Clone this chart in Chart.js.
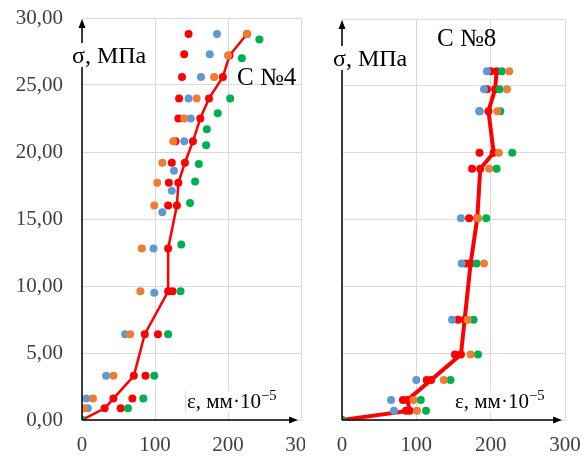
<!DOCTYPE html>
<html>
<head>
<meta charset="utf-8">
<script src="https://cdn.jsdelivr.net/npm/chart.js@4.4.1/dist/chart.umd.min.js"></script>
<style>
    body { margin: 0; background: #fff; }
    #contenedor { position: relative; width: 584px; height: 457px; overflow: hidden; }
    canvas { position: absolute; top: 0; }
    #grafico4 { left: 0; }
    #grafico8 { left: 305px; background: #fff; }
    .rotulo { position: absolute; font-family: 'Liberation Serif', serif; line-height: 1; color: #000; background: #fff; white-space: nowrap; padding: 0 1px; }
    .rotulo sup { font-size: 0.7em; vertical-align: 0.55em; line-height: 0; }
</style>
</head>
<body>
<div id="contenedor">
    <canvas id="grafico4" width="330" height="457"></canvas>
    <canvas id="grafico8" width="279" height="457"></canvas>
    <div class="rotulo" style="left:71px; top:43px; font-size:24px;">σ, МПа</div>
    <div class="rotulo" style="left:236px; top:64px; font-size:25px; background:none;">C №4</div>
    <div class="rotulo" style="left:185px; top:391px; font-size:21px; border-left:1px solid #d9d9d9;">ε, мм·10<sup>−5</sup></div>
    <div class="rotulo" style="left:332px; top:46px; font-size:24px;">σ, МПа</div>
    <div class="rotulo" style="left:436px; top:25px; font-size:25px; background:none;">C №8</div>
    <div class="rotulo" style="left:454px; top:391px; font-size:21px;">ε, мм·10<sup>−5</sup></div>
</div>
<script>
// C №4: deformación (x) y tensión (y)
const c4_azul_x = [185, 175, 163, 146, 149, 140, 126, 123, 110, 98, 99, 59, 33, 6, 8];
const c4_azul_y = [28.8, 27.3, 25.6, 24.0, 22.5, 20.8, 18.6, 17.1, 15.5, 12.8, 9.5, 6.4, 3.3, 1.6, 0.87];
const c4_naranja_x = [226, 200, 181, 157, 140, 125, 110, 103, 99, 82, 80, 66, 43, 15, 3];
const c4_naranja_y = [28.8, 27.2, 25.6, 24.0, 22.5, 20.8, 19.2, 17.7, 16.0, 12.8, 9.6, 6.4, 3.3, 1.6, 0.87];
const c4_rojo_x = [146, 140, 137, 133, 132, 128, 123, 119, 118, 124, 104, 87, 69, 53];
const c4_rojo_y = [28.8, 27.3, 25.6, 24.0, 22.5, 20.8, 19.2, 17.7, 16.0, 9.6, 6.4, 3.3, 1.6, 0.87];
const c4_verde_x = [243, 219, 203, 186, 171, 170, 160, 155, 148, 136, 135, 118, 99, 84, 63, 0];
const c4_verde_y = [28.4, 27.0, 24.0, 22.9, 21.7, 20.5, 19.1, 17.8, 16.2, 13.1, 9.6, 6.4, 3.3, 1.6, 0.87, 0];
const c4_media_x = [0, 31, 43, 71, 86, 118, 118, 130, 132, 141, 152, 162, 174, 193, 202, 226];
const c4_media_y = [0, 0.87, 1.6, 3.3, 6.4, 9.6, 12.8, 16.0, 17.7, 19.2, 20.8, 22.5, 24.0, 25.6, 27.2, 28.8];

// C №8
const c8_azul_x = [195, 191, 185, 160, 161, 148, 100, 66, 70];
const c8_azul_y = [26.1, 24.75, 23.1, 15.1, 11.7, 7.5, 3.0, 1.5, 0.7];
const c8_naranja_x = [225, 222, 209, 211, 198, 183, 191, 169, 173, 137, 96, 101];
const c8_naranja_y = [26.1, 24.75, 23.1, 20.0, 18.8, 15.1, 11.7, 7.5, 4.9, 3.0, 1.5, 0.7];
const c8_verde_x = [215, 212, 213, 229, 208, 194, 181, 177, 183, 146, 106, 113, 0];
const c8_verde_y = [26.1, 24.75, 23.1, 20.0, 18.8, 15.1, 11.7, 7.5, 4.9, 3.0, 1.5, 0.7, 0];
const c8_rojo_x = [200, 195, 185, 185, 175, 171, 166, 156, 152, 114, 82, 86];
const c8_rojo_y = [26.1, 24.75, 23.1, 20.0, 18.8, 15.1, 11.7, 7.5, 4.9, 3.0, 1.5, 0.7];
const c8_media_x = [0, 91, 88, 120, 160, 165, 173, 182, 186, 204, 197, 206, 208];
const c8_media_y = [0, 0.7, 1.5, 3.0, 4.9, 7.5, 11.7, 15.1, 18.8, 20.0, 23.1, 24.75, 26.1];

const ticks_x = [0, 100, 200, 300];

const AZUL = '#5B9BD5', NARANJA = '#ED7D31', VERDE = '#00B050', ROJO = '#FF0000';

function puntos(xs, ys) {
    return xs.map((x, i) => ({ x: x, y: ys[i] }));
}

function serie(xs, ys, color) {
    return { data: puntos(xs, ys), showLine: false, pointRadius: 4, pointHoverRadius: 4,
             backgroundColor: color, borderColor: color, pointBorderWidth: 0 };
}

function media(xs, ys, ancho) {
    return { data: puntos(xs, ys), showLine: true, borderColor: ROJO, backgroundColor: ROJO,
             borderWidth: ancho, pointRadius: 4, pointBorderWidth: 0, tension: 0 };
}

// ejes negros con flecha
const flechas = {
    id: 'flechas',
    afterDatasetsDraw(chart) {
        const ctx = chart.ctx;
        const x0 = chart.scales.x.getPixelForValue(0);
        const y0 = chart.scales.y.getPixelForValue(0);
        const arriba = chart.chartArea.top + 1;
        const derecha = chart.chartArea.right - 3;
        ctx.save();
        ctx.strokeStyle = '#000';
        ctx.fillStyle = '#000';
        ctx.lineWidth = 1.5;
        ctx.beginPath();
        ctx.moveTo(x0, y0); ctx.lineTo(x0, arriba + 6);
        ctx.moveTo(x0, y0); ctx.lineTo(derecha - 6, y0);
        ctx.stroke();
        ctx.beginPath();
        ctx.moveTo(x0, arriba); ctx.lineTo(x0 - 3.5, arriba + 9); ctx.lineTo(x0 + 3.5, arriba + 9); ctx.closePath();
        ctx.moveTo(derecha, y0); ctx.lineTo(derecha - 9, y0 - 3.5); ctx.lineTo(derecha - 9, y0 + 3.5); ctx.closePath();
        ctx.fill();
        ctx.restore();
    }
};

function sinRelleno(eje) {
    eje.paddingTop = 0; eje.paddingBottom = 0;
    eje.paddingLeft = 0; eje.paddingRight = 0;
}

function opciones(anchoEjeY, conEtiquetas) {
    const fuente = { family: "'Liberation Serif', serif", size: 21 };
    return {
        responsive: false,
        animation: false,
        layout: { padding: { top: conEtiquetas ? 18 : 19, right: conEtiquetas ? 29 : 19, left: 0, bottom: 0 } },
        plugins: { legend: { display: false }, tooltip: { enabled: false } },
        scales: {
            x: {
                type: 'linear', min: 0, max: 300,
                afterBuildTicks: (eje) => { eje.ticks = ticks_x.map(v => ({ value: v })); },
                afterFit: (eje) => { eje.height = 37; sinRelleno(eje); },
                grid: { color: '#d9d9d9', lineWidth: 1, drawTicks: false },
                border: { display: false },
                ticks: { padding: 13, color: '#404040', font: fuente, maxRotation: 0 }
            },
            y: {
                type: 'linear', min: 0, max: 30,
                afterFit: (eje) => { eje.width = anchoEjeY; sinRelleno(eje); },
                grid: { color: '#d9d9d9', lineWidth: 1, drawTicks: false },
                border: { display: false },
                ticks: { display: conEtiquetas, stepSize: 5, padding: 19, color: '#404040', font: fuente,
                         callback: (v) => v.toFixed(2).replace('.', ',') }
            }
        }
    };
}

function dibujar() {
    new Chart(document.getElementById('grafico4'), {
        type: 'scatter',
        data: { datasets: [
            serie(c4_naranja_x, c4_naranja_y, NARANJA),
            serie(c4_azul_x, c4_azul_y, AZUL),
            serie(c4_verde_x, c4_verde_y, VERDE),
            serie(c4_rojo_x, c4_rojo_y, ROJO),
            media(c4_media_x, c4_media_y, 2.5)
        ] },
        options: opciones(82, true),
        plugins: [flechas]
    });

    new Chart(document.getElementById('grafico8'), {
        type: 'scatter',
        data: { datasets: [
            serie(c8_naranja_x, c8_naranja_y, NARANJA),
            serie(c8_verde_x, c8_verde_y, VERDE),
            serie(c8_azul_x, c8_azul_y, AZUL),
            serie(c8_rojo_x, c8_rojo_y, ROJO),
            media(c8_media_x, c8_media_y, 4)
        ] },
        options: opciones(37, false),
        plugins: [flechas]
    });
}

dibujar();
</script>
</body>
</html>
